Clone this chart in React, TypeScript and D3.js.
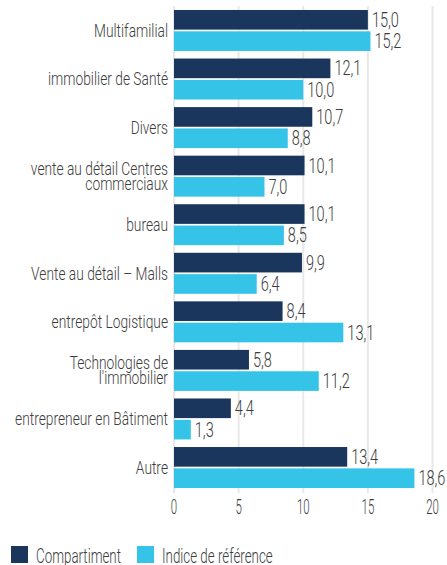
import React, { useMemo } from "react";
import * as d3 from "d3";

const categories: string[][] = [
  ["Multifamilial"],
  ["immobilier de Santé"],
  ["Divers"],
  ["vente au détail Centres", "commerciaux"],
  ["bureau"],
  ["Vente au détail – Malls"],
  ["entrepôt Logistique"],
  ["Technologies de", "l'immobilier"],
  ["entrepreneur en Bâtiment"],
  ["Autre"],
];
const compartiment = [15.0, 12.1, 10.7, 10.1, 10.1, 9.9, 8.4, 5.8, 4.4, 13.4];
const indice = [15.2, 10.0, 8.8, 7.0, 8.5, 6.4, 13.1, 11.2, 1.3, 18.6];
const seriesNames = ["Compartiment", "Indice de référence"];
const seriesColors = ["#1b365d", "#35c4e8"];
const ticks = [0, 5, 10, 15, 20];

const W = 447;
const H = 565;
const FONT = "Roboto, 'DejaVu Sans', sans-serif";
const WEIGHT = 300;
const TEXT = "#3c3c3c";

// calibration: fit font widths to the condensed face of the reference
function fitScale(sample: string, size: number, target: number, fallback: number) {
  try {
    const ctx = document.createElement("canvas").getContext("2d");
    if (!ctx) return fallback;
    ctx.font = `${WEIGHT} ${size}px ${FONT}`;
    const w = ctx.measureText(sample).width;
    return w > 0 ? target / w : fallback;
  } catch {
    return fallback;
  }
}

const LABEL_SIZE = 17.5;
const VALUE_SIZE = 19.5;
const TICK_SIZE = 21;
const LEGEND_SIZE = 20;

export default function App() {
  const sLabel = useMemo(() => fitScale("entrepreneur en Bâtiment", LABEL_SIZE, 153, 0.8), []);
  const sValue = useMemo(() => fitScale("15,0", VALUE_SIZE, 27, 0.75), []);
  const sTick = useMemo(() => fitScale("15", TICK_SIZE, 12.7, 0.7), []);
  const sLegend = useMemo(() => fitScale("Compartiment", LEGEND_SIZE, 85, 0.7), []);

  const x = d3.scaleLinear().domain([0, 20]).range([174, 432.5]);
  const keys = categories.map((c) => c.join(" "));
  const y = d3.scaleBand<string>().domain(keys).range([6.2, 491.8]).paddingInner(0.156).paddingOuter(0.078);
  const inner = d3.scaleBand<number>().domain([0, 1]).range([0, y.bandwidth()]).paddingInner(0.08);
  const fmt = (v: number) => v.toFixed(1).replace(".", ",");
  const series = [compartiment, indice];

  return (
    <svg
      width={W}
      height={H}
      style={{ position: "absolute", left: 0, top: 0, background: "#fff" }}
      fontFamily={FONT}
      fontWeight={WEIGHT}
    >
      {ticks.map((t) => (
        <line key={t} x1={x(t)} x2={x(t)} y1={6} y2={493} stroke="#e8e8e8" strokeWidth={2} />
      ))}
      {keys.map((k, i) => (
        <g key={k}>
          {series.map((s, j) => (
            <g key={j}>
              <rect
                x={x(0)}
                y={(y(k) as number) + (inner(j) as number)}
                width={x(s[i]) - x(0)}
                height={inner.bandwidth()}
                fill={seriesColors[j]}
              />
              <text
                transform={`translate(${x(s[i]) + 4},${(y(k) as number) + (inner(j) as number) + inner.bandwidth() / 2}) scale(${sValue},1)`}
                dy="0.36em"
                fontSize={VALUE_SIZE}
                fill={TEXT}
              >
                {fmt(s[i])}
              </text>
            </g>
          ))}
          {categories[i].map((line, li) => {
            const n = categories[i].length;
            const cy = (y(k) as number) + y.bandwidth() / 2 + (li - (n - 1) / 2) * 15.5;
            return (
              <text
                key={li}
                transform={`translate(168,${cy}) scale(${sLabel},1)`}
                dy="0.36em"
                textAnchor="end"
                fontSize={LABEL_SIZE}
                fill={TEXT}
              >
                {line}
              </text>
            );
          })}
        </g>
      ))}
      {ticks.map((t) => (
        <text
          key={t}
          transform={`translate(${x(t)},${506}) scale(${sTick},1)`}
          dy="0.36em"
          textAnchor="middle"
          fontSize={TICK_SIZE}
          fill={TEXT}
        >
          {t}
        </text>
      ))}
      {seriesNames.map((name, j) => {
        const lx = j === 0 ? 11 : 137;
        return (
          <g key={name}>
            <rect x={lx} y={546} width={17} height={17} fill={seriesColors[j]} />
            <text
              transform={`translate(${lx + 25},${555.5}) scale(${sLegend},1)`}
              dy="0.36em"
              fontSize={LEGEND_SIZE}
              fill={TEXT}
            >
              {name}
            </text>
          </g>
        );
      })}
    </svg>
  );
}
